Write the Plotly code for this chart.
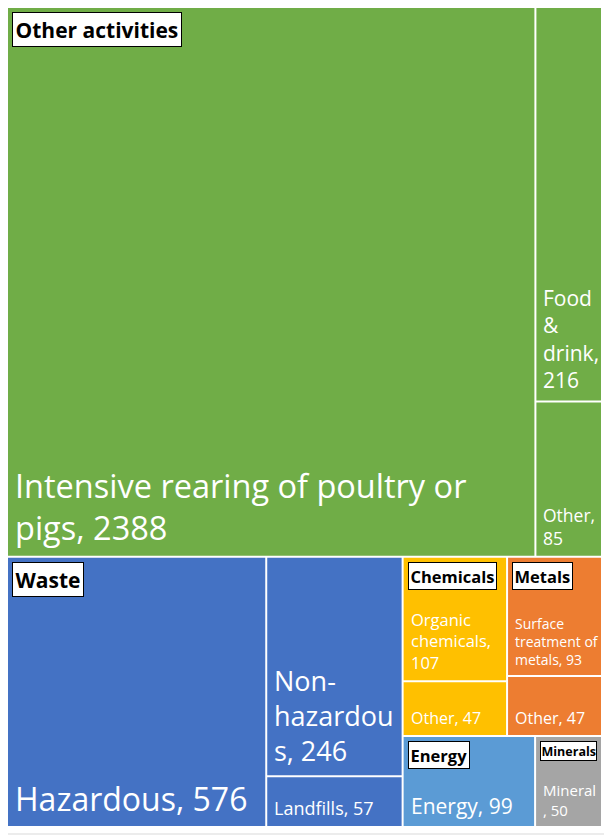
import plotly.graph_objects as go

# ---------------- data ----------------
groups = ["Other activities", "Waste", "Chemicals", "Metals", "Energy", "Minerals"]
group_colors = ["#70AD47", "#4472C4", "#FFC000", "#ED7D31", "#5B9BD5", "#A5A5A5"]
group_header_sizes = [21, 21, 16.5, 16.5, 16.5, 12.5]
group_header_pads = [2.5, 2.5, 1.5, 1.5, 1.5, 0.5]

other_activities_names = ["Intensive rearing of poultry or pigs", "Food & drink", "Other"]
other_activities_values = [2388, 216, 85]
other_activities_wraps = ["Intensive rearing of poultry or<br>pigs, {v}", "Food<br>&<br>drink,<br>{v}", "Other,<br>{v}"]
other_activities_sizes = [32.5, 21, 17.5]

waste_names = ["Hazardous", "Non-hazardous", "Landfills"]
waste_values = [576, 246, 57]
waste_wraps = ["Hazardous, {v}", "Non-<br>hazardou<br>s, {v}", "Landfills, {v}"]
waste_sizes = [32, 27, 18]

chemicals_names = ["Organic chemicals", "Other"]
chemicals_values = [107, 47]
chemicals_wraps = ["Organic<br>chemicals,<br>{v}", "Other, {v}"]
chemicals_sizes = [16.5, 16]

metals_names = ["Surface treatment of metals", "Other"]
metals_values = [93, 47]
metals_wraps = ["Surface<br>treatment of<br>metals, {v}", "Other, {v}"]
metals_sizes = [14, 16]

energy_names = ["Energy"]
energy_values = [99]
energy_wraps = ["Energy, {v}"]
energy_sizes = [21]

minerals_names = ["Mineral"]
minerals_values = [50]
minerals_wraps = ["Mineral<br>, {v}"]
minerals_sizes = [15]

children = [
    (other_activities_names, other_activities_values, other_activities_wraps, other_activities_sizes),
    (waste_names, waste_values, waste_wraps, waste_sizes),
    (chemicals_names, chemicals_values, chemicals_wraps, chemicals_sizes),
    (metals_names, metals_values, metals_wraps, metals_sizes),
    (energy_names, energy_values, energy_wraps, energy_sizes),
    (minerals_names, minerals_values, minerals_wraps, minerals_sizes),
]

FONT = "Open Sans"
PAGE_W, PAGE_H = 612, 836
OFFSET = 8  # default body margin of the html page
AREA = (7, 7, 602, 827)  # x0, y0, x1, y1 of the treemap area (page pixels)


def squarify(values, x0, y0, x1, y1):
    """Squarified treemap (d3 treemapSquarify, ratio = 1)."""
    rects = [None] * len(values)
    n = len(values)
    i0 = i1 = 0
    value = float(sum(values))
    while i0 < n:
        dx, dy = x1 - x0, y1 - y0
        sumv = values[i1]
        i1 += 1
        minv = maxv = sumv
        alpha = max(dy / dx, dx / dy) / value
        beta = sumv * sumv * alpha
        minratio = max(maxv / beta, beta / minv)
        while i1 < n:
            nv = values[i1]
            s2 = sumv + nv
            mn, mx = min(minv, nv), max(maxv, nv)
            beta = s2 * s2 * alpha
            nr = max(mx / beta, beta / mn)
            if nr > minratio:
                break
            sumv, minv, maxv, minratio = s2, mn, mx, nr
            i1 += 1
        if dx < dy:
            ny = y0 + dy * sumv / value
            cx = x0
            for i in range(i0, i1):
                w = dx * values[i] / sumv
                rects[i] = (cx, y0, cx + w, ny)
                cx += w
            y0 = ny
        else:
            nx = x0 + dx * sumv / value
            cy = y0
            for i in range(i0, i1):
                h = dy * values[i] / sumv
                rects[i] = (x0, cy, nx, cy + h)
                cy += h
            x0 = nx
        value -= sumv
        i0 = i1
    return rects


group_totals = [sum(c[1]) for c in children]
group_rects = squarify(group_totals, *AREA)

fig = go.Figure()
annotations = []
GAP = 1.0

for gname, gcolor, gsize, gpad, grect, (names, vals, wraps, sizes) in zip(
        groups, group_colors, group_header_sizes, group_header_pads, group_rects, children):
    leaf_rects = squarify(vals, *grect)
    for name, v, wrap, fs, r in zip(names, vals, wraps, sizes, leaf_rects):
        x0, y0, x1, y1 = r[0] + GAP, r[1] + GAP, r[2] - GAP, r[3] - GAP
        fig.add_trace(go.Scatter(
            x=[x0, x1, x1, x0, x0], y=[y0, y0, y1, y1, y0],
            mode="lines", fill="toself", fillcolor=gcolor,
            line=dict(width=0, color=gcolor),
            name=f"{gname} - {name}",
            hovertemplate=f"{gname}<br>{name}: {v}<extra></extra>",
            showlegend=False,
        ))
        annotations.append(dict(
            x=x0 + 5, y=y1 - 4, xref="x", yref="y",
            xanchor="left", yanchor="bottom", align="left",
            text=wrap.format(v=v), showarrow=False,
            font=dict(family=FONT, size=fs, color="white"),
            borderpad=1,
        ))
    # group header box
    annotations.append(dict(
        x=grect[0] + 5, y=grect[1] + 5, xref="x", yref="y",
        xanchor="left", yanchor="top", align="left",
        text=gname, showarrow=False,
        font=dict(family=FONT, size=gsize, color="black", weight="bold"),
        bgcolor="white", bordercolor="black", borderwidth=1, borderpad=gpad,
    ))

fig.update_layout(
    width=PAGE_W - OFFSET, height=PAGE_H - OFFSET,
    margin=dict(l=0, r=0, t=0, b=0),
    paper_bgcolor="white", plot_bgcolor="white",
    xaxis=dict(range=[OFFSET, PAGE_W], visible=False, fixedrange=True),
    yaxis=dict(range=[PAGE_H, OFFSET], visible=False, fixedrange=True),
    annotations=annotations,
    shapes=[
        dict(type="line", xref="x", yref="y", x0=606, y0=OFFSET, x1=606, y1=834,
             line=dict(color="#D9D9D9", width=1), layer="below"),
        dict(type="line", xref="x", yref="y", x0=OFFSET, y0=834, x1=606, y1=834,
             line=dict(color="#D9D9D9", width=1), layer="below"),
    ],
    showlegend=False,
)

fig.write_html("out.html")
